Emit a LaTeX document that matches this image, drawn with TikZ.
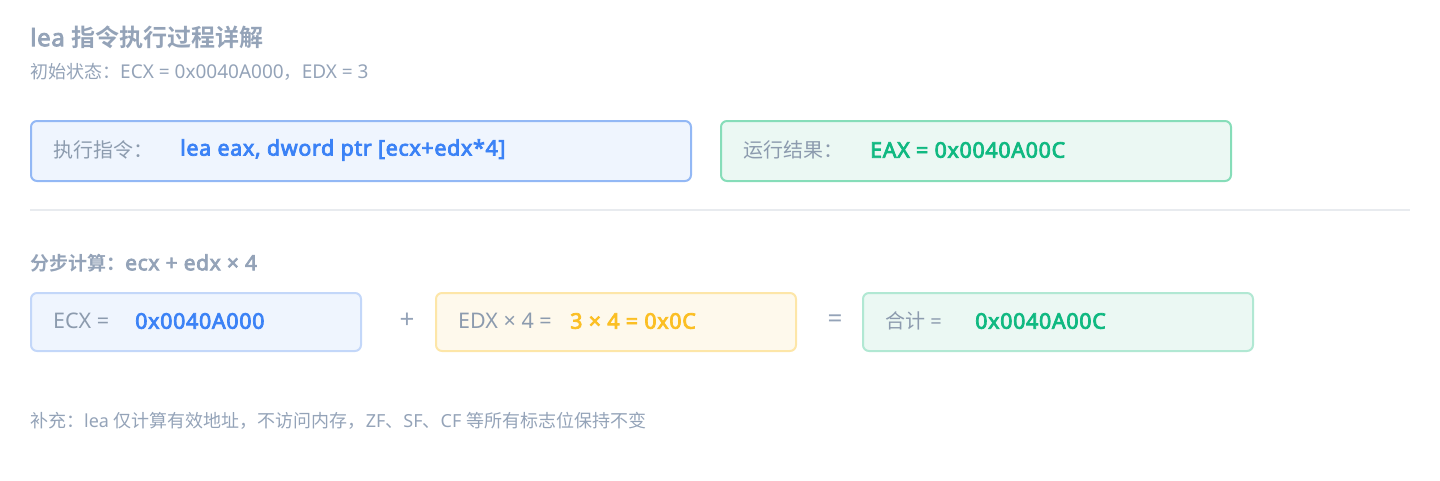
\documentclass[tikz,border=0pt]{standalone}
\usepackage{fontspec}
\setmainfont{Noto Sans}[BoldFont={Noto Sans},BoldFeatures={FakeBold=3.5,LetterSpace=3}]
\newfontfamily\cjk{Noto Sans CJK SC}[BoldFont={* Bold}]
\definecolor{titlegray}{HTML}{94A3B8}
\definecolor{labelgray}{HTML}{8C9BAE}
\definecolor{opgray}{HTML}{94A3B8}
\definecolor{blueA}{HTML}{3B82F6}
\definecolor{greenA}{HTML}{10B981}
\definecolor{amberA}{HTML}{FBBF24}
\definecolor{bluefill}{HTML}{EFF5FE}
\definecolor{blueline}{HTML}{93B8F5}
\definecolor{bluelineL}{HTML}{C3D7F9}
\definecolor{greenfill}{HTML}{EBF8F3}
\definecolor{greenline}{HTML}{86DDB9}
\definecolor{greenlineL}{HTML}{B1E8D3}
\definecolor{amberfill}{HTML}{FEF9EC}
\definecolor{amberline}{HTML}{FDE6A8}
\definecolor{divider}{HTML}{E8EBEF}
\tikzset{
  box/.style={draw, line width=2pt, rounded corners=6pt, anchor=north west, inner sep=0pt},
  lbl/.style={anchor=west, inner sep=0pt, text=labelgray, font=\fontsize{20}{22}\selectfont},
  val/.style={anchor=west, inner sep=0pt, font=\fontsize{21.5}{23}\selectfont\bfseries},
  oper/.style={inner sep=0pt, text=opgray, font=\fontsize{26}{28}\selectfont},
}
\begin{document}
\begin{tikzpicture}[x=1pt,y=-1pt]
\useasboundingbox (0,0) rectangle (1440,480);
% title
\node[anchor=west, inner sep=0pt, text=titlegray, font=\fontsize{24}{26}\selectfont\bfseries] (title) at (30,37) {lea {\cjk 指令执行过程详解}};
\node[anchor=west, inner sep=0pt, text=titlegray, font=\fontsize{18}{20}\selectfont] (sub) at (30,72) {{\cjk 初始状态：}{\fontsize{19}{20}\selectfont ECX = 0x0040A000}{\cjk ，}{\fontsize{19}{20}\selectfont EDX = 3}};
% top boxes
\node[box, draw=blueline, fill=bluefill, minimum width=660pt, minimum height=60pt] (instr) at (30,120) {};
\node[lbl] (instrL) at (53,150) {\cjk 执行指令：};
\node[val, text=blueA] (instrV) at (180,150) {lea eax, dword ptr [ecx+edx*4]};
\node[box, draw=greenline, fill=greenfill, minimum width=510pt, minimum height=60pt] (res) at (720,120) {};
\node[lbl] (resL) at (743,150) {\cjk 运行结果：};
\node[val, text=greenA] (resV) at (870,150) {EAX = 0x0040A00C};
% divider
\coordinate (d1) at (30,210);
\coordinate (d2) at (1410,210);
\draw[divider, line width=1.5pt] (d1) -- (d2);
% step heading
\node[anchor=west, inner sep=0pt, text=titlegray, font=\fontsize{19}{21}\selectfont\bfseries] (step) at (30,263) {{\cjk 分步计算：}{\fontsize{21}{22}\selectfont ecx + edx × 4}};
% row boxes
\node[box, draw=bluelineL, fill=bluefill, minimum width=330pt, minimum height=58pt] (ecx) at (30,292) {};
\node[lbl, font=\fontsize{21.5}{23}\selectfont] (ecxL) at (53,321) {ECX =};
\node[val, text=blueA] (ecxV) at (135,321) {0x0040A000};
\node[oper] (plus) at (407,321) {+};
\node[box, draw=amberline, fill=amberfill, minimum width=360pt, minimum height=58pt] (edx) at (435,292) {};
\node[lbl, font=\fontsize{21.5}{23}\selectfont] (edxL) at (458,321) {EDX × 4 =};
\node[val, text=amberA] (edxV) at (570,321) {3 × 4 = 0x0C};
\node[oper] (eq) at (835,321) {=};
\node[box, draw=greenlineL, fill=greenfill, minimum width=390pt, minimum height=58pt] (sum) at (862,292) {};
\node[lbl] (sumL) at (885,321) {{\cjk 合计} =};
\node[val, text=greenA] (sumV) at (975,321) {0x0040A00C};
% footer
\node[anchor=west, inner sep=0pt, text=titlegray, font=\fontsize{18}{20}\selectfont] (note) at (30,421) {{\cjk 补充：}lea {\cjk 仅计算有效地址，不访问内存，}ZF{\cjk 、}SF{\cjk 、}CF {\cjk 等所有标志位保持不变}};
\end{tikzpicture}
\end{document}
